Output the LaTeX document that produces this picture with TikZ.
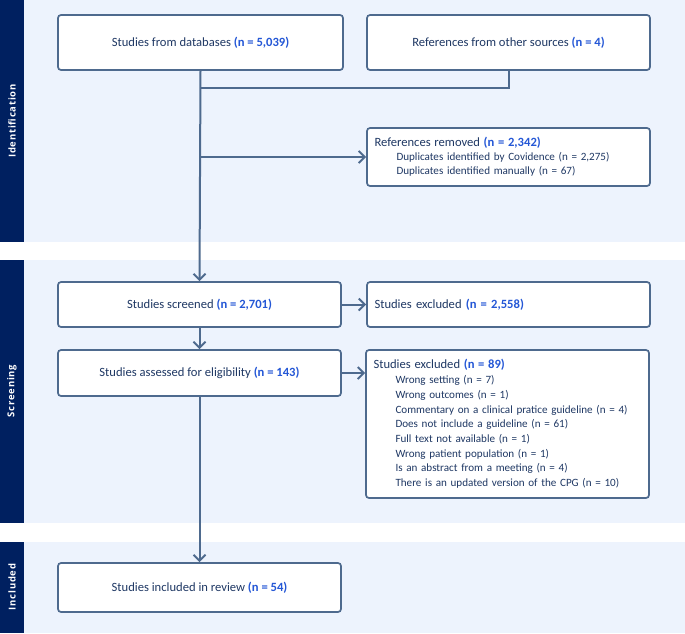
\documentclass[tikz,border=0pt]{standalone}
\usepackage{fontspec}
\setmainfont{Carlito}
\newfontfamily\labelfont[LetterSpace=8]{Open Sans}
\usetikzlibrary{arrows.meta}
\definecolor{navy}{HTML}{002060}
\definecolor{bandc}{HTML}{EDF3FD}
\definecolor{linec}{HTML}{4E6A8E}
\definecolor{textc}{HTML}{1F3864}
\definecolor{numc}{HTML}{2457D6}
\newcommand{\nn}[1]{\textcolor{numc}{\textbf{#1}}}
\newcommand{\hd}[1]{{\fontsize{12.6}{14}\selectfont #1}}
\tikzset{
  x=1pt, y=-1pt,
  band/.style={fill=bandc, draw=none},
  side/.style={fill=navy, draw=none},
  sidelabel/.style={rotate=90, text=white, font=\labelfont\bfseries\fontsize{9.5}{11}\selectfont},
  box/.style={draw=linec, line width=1.7pt, fill=white, rounded corners=3pt, text=textc,
     font=\fontsize{12.6}{15}\selectfont, minimum width=283pt, align=center, inner sep=0pt},
  listbox/.style={box, align=left, text width=268pt, font=\fontsize{11.1}{14.7}\selectfont},
  conn/.style={draw=linec, line width=2pt},
  arr/.style={conn, -{Straight Barb[length=6pt,width=12pt,line width=2pt]}},
}
\newcommand{\ind}{\hspace*{22pt}}
\begin{document}
\begin{tikzpicture}
\useasboundingbox (0,0) rectangle (685,633);
% bands
\fill[band] (24,0) rectangle (685,242);
\fill[side] (0,0) rectangle (24,242);
\fill[band] (24,260) rectangle (685,523);
\fill[side] (0,260) rectangle (24,523);
\fill[band] (24,542) rectangle (685,633);
\fill[side] (0,542) rectangle (24,633);
\node[sidelabel] (lid) at (12,121) {Identification};
\node[sidelabel] (lsc) at (12,391) {Screening};
\node[sidelabel] (lin) at (12,587) {Included};
% boxes
\node[box, minimum width=285pt, minimum height=55pt] (db) at (200.5,42.5) {Studies from databases \nn{(n = 5,039)}};
\node[box, minimum height=55pt] (oth) at (508.5,42.5) {References from other sources \nn{(n = 4)}};
\node[listbox, minimum height=58pt, font=\fontsize{11.1}{14}\selectfont] (rem) at (508.5,157) {\hd{References removed \nn{(n = 2,342)}}\\
\ind Duplicates identified by Covidence (n = 2,275)\\
\ind Duplicates identified manually (n = 67)};
\node[box, minimum height=45pt] (scr) at (199.5,304.5) {Studies screened \nn{(n = 2,701)}};
\node[listbox, minimum height=45pt, font=\fontsize{12.6}{15}\selectfont] (ex1) at (508.5,304.5) {Studies excluded \nn{(n = 2,558)}};
\node[box, minimum height=46pt] (elig) at (199.5,373) {Studies assessed for eligibility \nn{(n = 143)}};
\node[listbox, minimum height=148pt] (ex2) at (507.5,424) {\hd{Studies excluded \nn{(n = 89)}}\\
\ind Wrong setting (n = 7)\\
\ind Wrong outcomes (n = 1)\\
\ind Commentary on a clinical pratice guideline (n = 4)\\
\ind Does not include a guideline (n = 61)\\
\ind Full text not available (n = 1)\\
\ind Wrong patient population (n = 1)\\
\ind Is an abstract from a meeting (n = 4)\\
\ind There is an updated version of the CPG (n = 10)};
\node[box, minimum height=49pt] (inc) at (199.5,587.5) {Studies included in review \nn{(n = 54)}};
% connectors
\coordinate (j1) at (db.south |- 0,88);
\coordinate (j2) at (db.south |- rem.west);
\draw[conn] (oth.south) |- (j1);
\draw[arr] (db.south) -- (scr.north);
\draw[arr] (j2) -- (rem.west);
\draw[arr] (scr.east) -- (ex1.west);
\draw[arr] (scr.south) -- (elig.north);
\draw[arr] (elig.east) -- (ex2.west |- elig.east);
\draw[arr] (elig.south) -- (inc.north);
\end{tikzpicture}
\end{document}
